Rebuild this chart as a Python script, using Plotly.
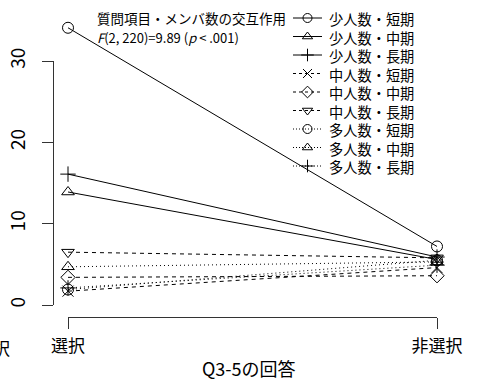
import plotly.graph_objects as go

# Interaction of question item × member count, mean scores by Q3-5 answer
answers = ["選択", "非選択"]
series_names = [
    "少人数・短期", "少人数・中期", "少人数・長期",
    "中人数・短期", "中人数・中期", "中人数・長期",
    "多人数・短期", "多人数・中期", "多人数・長期",
]
values_selected = [34.1, 13.9, 16.1, 1.7, 3.4, 6.5, 1.9, 4.7, 2.1]
values_unselected = [7.2, 5.6, 5.9, 4.6, 3.6, 5.8, 5.5, 5.3, 4.9]

y_ticks = [0, 10, 20, 30]

dashes = ["solid"] * 3 + ["4px,4px"] * 3 + ["1px,3px"] * 3
legend_dashes = ["solid"] * 3 + ["3px,3px"] * 3 + ["1px,2px"] * 3
symbols = [
    "circle-open", "triangle-up-open", "cross-thin-open",
    "x-thin-open", "diamond-open", "triangle-down-open",
    "circle-open", "triangle-up-open", "cross-thin-open",
]

FONT = "Noto Sans CJK JP"
AX = "#333"
x_pos = [1, 2]

# plot area in pixels (left, right, top, bottom)
L, R, T, B = 53, 452, 10, 317
W, H = 481, 384
X_RANGE = [1 - 15 / 369, 2 + 15 / 369]
Y_RANGE = [-12 / 8.13, 295 / 8.13]


def xpaper(v):
    return (v - X_RANGE[0]) / (X_RANGE[1] - X_RANGE[0])


def ypaper(v):
    return (v - Y_RANGE[0]) / (Y_RANGE[1] - Y_RANGE[0])


fig = go.Figure()
for name, a, b, dash, sym in zip(series_names, values_selected,
                                 values_unselected, dashes, symbols):
    fig.add_trace(go.Scatter(
        x=x_pos, y=[a, b], name=name, mode="lines+markers",
        line=dict(color="black", width=1, dash=dash),
        marker=dict(symbol=sym, size=11, color="black",
                    line=dict(color="black", width=1)),
        showlegend=False,
    ))

# Empty traces so the R-style display axes (spanning only the tick range) are drawn
fig.add_trace(go.Scatter(x=[None], y=[None], xaxis="x", yaxis="y3",
                         showlegend=False, hoverinfo="skip"))
fig.add_trace(go.Scatter(x=[None], y=[None], xaxis="x3", yaxis="y",
                         showlegend=False, hoverinfo="skip"))

# Hand-built legend on an overlay axis measured in pixels
LEG_X0, LEG_X1, LEG_TEXT_X = 293, 322, 328
LEG_Y0, LEG_STEP = 18, 18.5
for i, (dash, sym) in enumerate(zip(legend_dashes, symbols)):
    yy = LEG_Y0 + LEG_STEP * i
    fig.add_trace(go.Scatter(
        x=[LEG_X0, LEG_X1], y=[yy, yy], mode="lines",
        line=dict(color="black", width=1, dash=dash),
        xaxis="x2", yaxis="y2", showlegend=False, hoverinfo="skip",
    ))
    fig.add_trace(go.Scatter(
        x=[(LEG_X0 + LEG_X1) / 2], y=[yy], mode="markers",
        marker=dict(symbol=sym, size=9, color="black",
                    line=dict(color="black", width=1)),
        xaxis="x2", yaxis="y2", showlegend=False, hoverinfo="skip",
    ))
fig.add_annotation(text="<br>".join(series_names), xref="x2", yref="y2",
                   x=LEG_TEXT_X, y=LEG_Y0 + LEG_STEP * (len(series_names) - 1) / 2,
                   xanchor="left", yanchor="middle", align="left",
                   showarrow=False, borderpad=0,
                   font=dict(size=LEG_STEP / 1.3, family=FONT))

hidden = dict(showgrid=False, zeroline=False, showline=False,
              showticklabels=False, ticks="", automargin=False)
fig.update_layout(
    width=W, height=H,
    margin=dict(l=L, r=W - R, t=T, b=H - B, autoexpand=False),
    paper_bgcolor="white", plot_bgcolor="rgba(0,0,0,0)",
    font=dict(family=FONT, color="black"),
    showlegend=False,
    xaxis=dict(range=X_RANGE, **hidden),
    yaxis=dict(range=Y_RANGE, **hidden),
    xaxis3=dict(
        domain=[xpaper(x_pos[0]), xpaper(x_pos[-1])], range=x_pos,
        anchor="free", position=0, automargin=False,
        tickvals=x_pos, ticktext=answers,
        ticks="outside", ticklen=11, tickcolor=AX,
        showline=True, linecolor=AX, linewidth=1,
        showgrid=False, zeroline=False,
        tickfont=dict(size=17, family=FONT), ticklabelstandoff=3,
    ),
    yaxis3=dict(
        domain=[ypaper(y_ticks[0]), ypaper(y_ticks[-1])],
        range=[y_ticks[0], y_ticks[-1]],
        anchor="free", position=0, automargin=False,
        tickvals=y_ticks, ticks="outside", ticklen=11, tickcolor=AX,
        showline=True, linecolor=AX, linewidth=1,
        tickangle=-90, showgrid=False, zeroline=False,
        tickfont=dict(size=19, family=FONT), ticklabelstandoff=9,
    ),
    xaxis2=dict(range=[L, R], overlaying="x", visible=False,
                fixedrange=True, automargin=False),
    yaxis2=dict(range=[B, T], overlaying="y", visible=False,
                fixedrange=True, automargin=False),
)

fig.add_annotation(text="質問項目・メンバ数の交互作用", xref="x2", yref="y2",
                   x=96, y=18, xanchor="left", yanchor="middle", borderpad=0,
                   showarrow=False, font=dict(size=13.5, family=FONT))
fig.add_annotation(text="<i>F</i>(2, 220)=9.89 (<i>p</i> &lt; .001)",
                   xref="x2", yref="y2", x=96, y=37, borderpad=0,
                   xanchor="left", yanchor="middle",
                   showarrow=False, font=dict(size=13, family=FONT))
fig.add_annotation(text="Q3-5の回答", xref="paper", yref="paper",
                   x=(249 - L) / (R - L), y=(B - 368) / (B - T),
                   xanchor="center", yanchor="middle",
                   showarrow=False, font=dict(size=18, family=FONT))
fig.add_annotation(text="非選択", xref="paper", yref="paper",
                   x=(12 - L) / (R - L), y=(B - 347) / (B - T),
                   xanchor="right", yanchor="middle",
                   showarrow=False, font=dict(size=17, family=FONT))

fig.write_html("out.html")
